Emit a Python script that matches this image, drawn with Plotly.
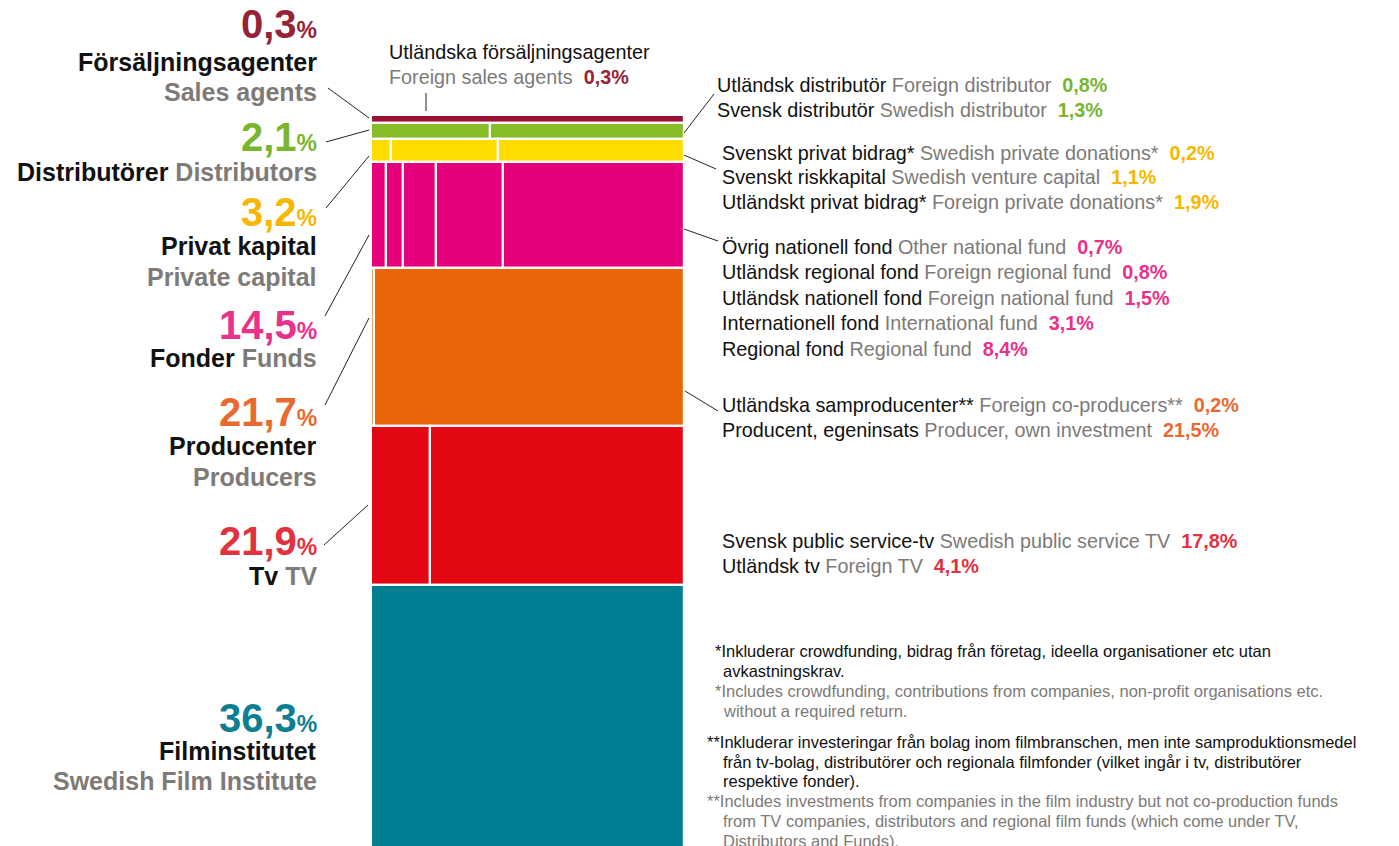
import plotly.graph_objects as go

# ---------------- data ----------------
groups_sv = ["Försäljningsagenter", "Distributörer", "Privat kapital", "Fonder",
             "Producenter", "Tv", "Filminstitutet"]
groups_en = ["Sales agents", "Distributors", "Private capital", "Funds",
             "Producers", "TV", "Swedish Film Institute"]
group_pct = [0.3, 2.1, 3.2, 14.5, 21.7, 21.9, 36.3]

# sub-categories, in the order they are listed in the right-hand labels
sales_sv = ["Utländska försäljningsagenter"]
sales_en = ["Foreign sales agents"]
sales_pct = [0.3]

dist_sv = ["Utländsk distributör", "Svensk distributör"]
dist_en = ["Foreign distributor", "Swedish distributor"]
dist_pct = [0.8, 1.3]

priv_sv = ["Svenskt privat bidrag*", "Svenskt riskkapital", "Utländskt privat bidrag*"]
priv_en = ["Swedish private donations*", "Swedish venture capital", "Foreign private donations*"]
priv_pct = [0.2, 1.1, 1.9]

fund_sv = ["Övrig nationell fond", "Utländsk regional fond", "Utländsk nationell fond",
           "Internationell fond", "Regional fond"]
fund_en = ["Other national fund", "Foreign regional fund", "Foreign national fund",
           "International fund", "Regional fund"]
fund_pct = [0.7, 0.8, 1.5, 3.1, 8.4]

prod_sv = ["Utländska samproducenter**", "Producent, egeninsats"]
prod_en = ["Foreign co-producers**", "Producer, own investment"]
prod_pct = [0.2, 21.5]

tv_sv = ["Svensk public service-tv", "Utländsk tv"]
tv_en = ["Swedish public service TV", "Foreign TV"]
tv_pct = [17.8, 4.1]

sfi_sv = ["Filminstitutet"]
sfi_en = ["Swedish Film Institute"]
sfi_pct = [36.3]

footnotes_sv = [
    "*Inkluderar crowdfunding, bidrag från företag, ideella organisationer etc utan",
    "avkastningskrav.",
]
footnotes_en = [
    "*Includes crowdfunding, contributions from companies, non-profit organisations etc.",
    "without a required return.",
]
footnotes2_sv = [
    "**Inkluderar investeringar från bolag inom filmbranschen, men inte samproduktionsmedel",
    "från tv-bolag, distributörer och regionala filmfonder (vilket ingår i tv, distributörer",
    "respektive fonder).",
]
footnotes2_en = [
    "**Includes investments from companies in the film industry but not co-production funds",
    "from TV companies, distributors and regional film funds (which come under TV,",
    "Distributors and Funds).",
]

segments = [
    (sales_sv, sales_en, sales_pct),
    (dist_sv, dist_en, dist_pct),
    (priv_sv, priv_en, priv_pct),
    (fund_sv, fund_en, fund_pct),
    (prod_sv, prod_en, prod_pct),
    (tv_sv, tv_en, tv_pct),
    (sfi_sv, sfi_en, sfi_pct),
]

# ---------------- style ----------------
W, H = 1399, 846
bar_colors = ["#9b1035", "#86bc25", "#ffdc00", "#e5007d", "#ea6508", "#e30613", "#007f93"]
txt_colors = ["#952338", "#78b62f", "#f7b700", "#e8318a", "#e9692f", "#e2323f", "#0e7f93"]
# left-to-right drawing order inside each row (TV: the small foreign part first)
draw_reverse = [False, False, False, False, False, True, False]
MIN_ROW = 1.1           # minimum drawn height of a row (in % units) so thin rows stay visible
PX_PER_UNIT = 7.28
TOP_PX = 115.4
GREY = "#7d7a78"
BLACK = "#111111"
FONT = "Liberation Sans, Arial, Helvetica, sans-serif"


def fmt(v):
    return f"{v:.1f}".replace(".", ",")


def px(x):
    return x / W


def py(y):
    return 1 - y / H


fig = go.Figure()

cum = 0.0
for gi, (sv, en, vals) in enumerate(segments):
    row_h = max(group_pct[gi], MIN_ROW)
    center = cum + row_h / 2
    total = sum(vals)
    order = list(range(len(vals)))
    if draw_reverse[gi]:
        order = order[::-1]
    left = 0.0
    for k in order:
        share = vals[k] / total * 100
        fig.add_trace(go.Bar(
            orientation="h",
            y=[center], x=[share], base=[left], width=[row_h],
            marker=dict(color=bar_colors[gi], line=dict(color="white", width=2.2)),
            name=f"{sv[k]} {en[k]}",
            hovertemplate=f"{sv[k]} / {en[k]}: {fmt(vals[k])}%<extra></extra>",
        ))
        left += share
    cum += row_h

# ---------------- left labels ----------------
left_x = px(319)
left_layout = [
    (24, [(62, f"<b>{groups_sv[0]}</b>"), (92, f"<b><span style='color:{GREY}'>{groups_en[0]}</span></b>")]),
    (137, [(172, f"<b>{groups_sv[1]} <span style='color:{GREY}'>{groups_en[1]}</span></b>")]),
    (212, [(246, f"<b>{groups_sv[2]}</b>"), (277, f"<b><span style='color:{GREY}'>{groups_en[2]}</span></b>")]),
    (325, [(358, f"<b>{groups_sv[3]} <span style='color:{GREY}'>{groups_en[3]}</span></b>")]),
    (412, [(446, f"<b>{groups_sv[4]}</b>"), (477, f"<b><span style='color:{GREY}'>{groups_en[4]}</span></b>")]),
    (541, [(576, f"<b>{groups_sv[5]} <span style='color:{GREY}'>{groups_en[5]}</span></b>")]),
    (718, [(751, f"<b>{groups_sv[6]}</b>"), (781, f"<b><span style='color:{GREY}'>{groups_en[6]}</span></b>")]),
]

annotations = []
for gi, (ybig, lines) in enumerate(left_layout):
    annotations.append(dict(
        x=left_x, y=py(ybig), xref="paper", yref="paper", xanchor="right", yanchor="middle",
        text=f"<b>{fmt(group_pct[gi])}<span style='font-size:23px'>%</span></b>",
        showarrow=False, font=dict(family=FONT, size=40, color=txt_colors[gi]),
    ))
    for (yy, t) in lines:
        annotations.append(dict(
            x=left_x, y=py(yy), xref="paper", yref="paper", xanchor="right", yanchor="middle",
            text=t, showarrow=False, font=dict(family=FONT, size=25, color=BLACK),
        ))

# ---------------- right labels ----------------
RFS = 19.8


def seg_label(sv, en, v, col):
    return (f"{sv} <span style='color:{GREY}'>{en}</span>  "
            f"<b><span style='color:{col}'>{fmt(v)}%</span></b>")


annotations.append(dict(x=px(387), y=py(52), xref="paper", yref="paper", xanchor="left",
                        yanchor="middle", text=sales_sv[0], showarrow=False,
                        font=dict(family=FONT, size=RFS, color=BLACK)))
annotations.append(dict(x=px(387), y=py(77), xref="paper", yref="paper", xanchor="left",
                        yanchor="middle",
                        text=f"<span style='color:{GREY}'>{sales_en[0]}</span>  "
                             f"<b><span style='color:{txt_colors[0]}'>{fmt(sales_pct[0])}%</span></b>",
                        showarrow=False, font=dict(family=FONT, size=RFS, color=BLACK)))

right_layout = [
    None,
    (715, [85, 110]),
    (720, [153, 177, 202]),
    (720, [247, 272, 298, 323, 349]),
    (720, [405, 430]),
    (720, [541, 566]),
    None,
]
for gi, lay in enumerate(right_layout):
    if lay is None:
        continue
    x0, ys = lay
    sv, en, vals = segments[gi]
    for k, yy in enumerate(ys):
        annotations.append(dict(
            x=px(x0), y=py(yy), xref="paper", yref="paper", xanchor="left", yanchor="middle",
            text=seg_label(sv[k], en[k], vals[k], txt_colors[gi]), showarrow=False,
            font=dict(family=FONT, size=RFS, color=BLACK),
        ))

# ---------------- footnotes ----------------
FFS = 16.5
foot_lines = [
    (713, 651, footnotes_sv[0], BLACK), (721, 671, footnotes_sv[1], BLACK),
    (713, 691, footnotes_en[0], GREY), (721, 711, footnotes_en[1], GREY),
    (705, 742, footnotes2_sv[0], BLACK), (721, 762, footnotes2_sv[1], BLACK),
    (721, 781, footnotes2_sv[2], BLACK),
    (705, 801, footnotes2_en[0], GREY), (721, 821, footnotes2_en[1], GREY),
    (721, 841, footnotes2_en[2], GREY),
]
for (x0, yy, t, c) in foot_lines:
    annotations.append(dict(x=px(x0), y=py(yy), xref="paper", yref="paper", xanchor="left",
                            yanchor="middle", text=t, showarrow=False,
                            font=dict(family=FONT, size=FFS, color=c)))

# ---------------- leader lines ----------------
leaders = [
    (328, 88, 369, 118), (326, 142, 369, 130), (326, 208, 369, 156),
    (325, 316, 369, 235), (325, 405, 369, 318), (324, 545, 368, 505),
    (426, 93, 426, 111),
    (684, 133, 714, 94), (684, 155, 716, 169), (684, 229, 718, 241), (685, 391, 718, 411),
]
shapes = [dict(type="line", xref="paper", yref="paper", x0=px(a), y0=py(b), x1=px(c), y1=py(d),
               line=dict(color="#222222", width=1)) for (a, b, c, d) in leaders]

fig.update_layout(
    width=W, height=H,
    margin=dict(l=0, r=0, t=0, b=0),
    paper_bgcolor="white", plot_bgcolor="white",
    barmode="overlay", showlegend=False,
    xaxis=dict(domain=[px(371), px(684)], range=[0, 100], visible=False, fixedrange=True),
    yaxis=dict(domain=[0, 1],
               range=[(H - TOP_PX) / PX_PER_UNIT, -TOP_PX / PX_PER_UNIT],
               visible=False, fixedrange=True),
    annotations=annotations, shapes=shapes,
    bargap=0,
)

fig.write_html("out.html",
               config={"displayModeBar": False},
               post_script="document.body.style.margin='0';document.body.style.overflow='hidden';")
